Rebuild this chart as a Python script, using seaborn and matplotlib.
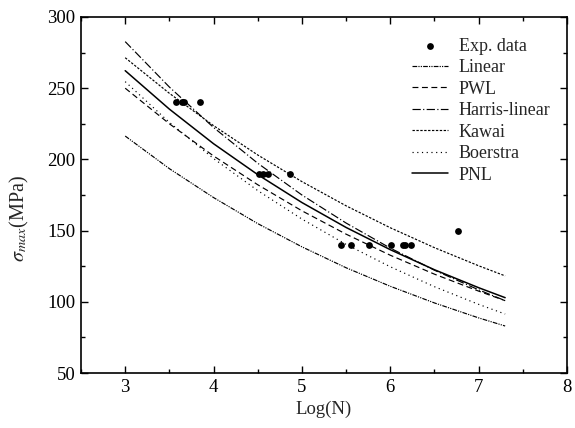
import matplotlib
matplotlib.use("Agg")
import matplotlib.pyplot as plt
import seaborn as sns
import pandas as pd
from matplotlib.ticker import MultipleLocator

# ---- data ----
exp_logn = [3.57, 3.64, 3.67, 3.85, 4.51, 4.56, 4.62, 4.87,
            5.44, 5.55, 5.76, 6.01, 6.14, 6.17, 6.24, 6.77]
exp_sigma = [240, 240, 240, 240, 190, 190, 190, 190,
             140, 140, 140, 140, 140, 140, 140, 150]

logn = [3.0, 3.5, 4.0, 4.5, 5.0, 5.5, 6.0, 6.5, 7.0, 7.3]
linear = [216.4, 193.5, 173.2, 154.9, 138.6, 123.9, 110.9, 99.2, 88.7, 83.0]
pwl = [250.0, 225.0, 202.4, 182.2, 163.9, 147.5, 132.7, 119.4, 107.5, 100.8]
harris = [282.7, 250.8, 222.4, 197.3, 175.0, 155.3, 137.7, 122.2, 108.4, 100.8]
kawai = [271.4, 246.4, 223.7, 203.1, 184.4, 167.4, 152.0, 138.0, 125.3, 118.2]
boerstra = [254.6, 226.0, 200.6, 178.1, 158.1, 140.3, 124.6, 110.6, 98.2, 91.4]
pnl = [262.3, 235.3, 211.0, 189.3, 169.7, 152.2, 136.6, 122.5, 109.9, 102.9]

series_names = ["Linear", "PWL", "Harris-linear", "Kawai", "Boerstra", "PNL"]
series_vals = [linear, pwl, harris, kawai, boerstra, pnl]

sns.set_style("ticks")
plt.rcParams["font.family"] = ["Liberation Serif", "DejaVu Serif"]
plt.rcParams["mathtext.fontset"] = "stix"

fig = plt.figure(figsize=(5.75, 4.28), dpi=100)
ax = fig.add_axes([0.1409, 0.1285, 0.8452, 0.8318])

styles = {
    "Linear": (0, (4, 1, 1, 1, 1, 1)),
    "PWL": (0, (5, 3)),
    "Harris-linear": (0, (7, 2, 1, 2)),
    "Kawai": (0, (2, 1.3)),
    "Boerstra": (0, (1, 3)),
    "PNL": "-",
}

sns.scatterplot(x=exp_logn, y=exp_sigma, ax=ax, color="black", s=24,
                edgecolor="black", linewidth=0, label="Exp. data", zorder=5)

for name, vals in zip(series_names, series_vals):
    df = pd.DataFrame({"x": logn, "y": vals})
    sns.lineplot(data=df, x="x", y="y", ax=ax, color="black",
                 lw=1.1 if name == "PNL" else 0.85,
                 linestyle=styles[name], label=name)

ax.set_xlim(2.5, 8)
ax.set_ylim(50, 300)
ax.xaxis.set_major_locator(MultipleLocator(1))
ax.xaxis.set_minor_locator(MultipleLocator(0.5))
ax.yaxis.set_major_locator(MultipleLocator(50))
ax.yaxis.set_minor_locator(MultipleLocator(25))
ax.tick_params(which="both", direction="in", top=True, right=True,
               width=1, colors="black", labelsize=13.5)
ax.tick_params(which="major", length=5, pad=4)
ax.tick_params(which="minor", length=3)
for sp in ax.spines.values():
    sp.set_linewidth(1.2)
    sp.set_color("black")

ax.set_xlabel("Log(N)", fontsize=13.5, labelpad=4)
ax.set_ylabel(r"$\sigma_{max}$(MPa)", fontsize=14.5)
ax.yaxis.set_label_coords(-0.102, 0.433)

leg = ax.legend(loc="upper left", bbox_to_anchor=(0.681, 0.942), frameon=False,
                fontsize=13, handlelength=2.0, handletextpad=0.6,
                labelspacing=0.25, borderpad=0, borderaxespad=0)

fig.savefig("out.png", dpi=100)
